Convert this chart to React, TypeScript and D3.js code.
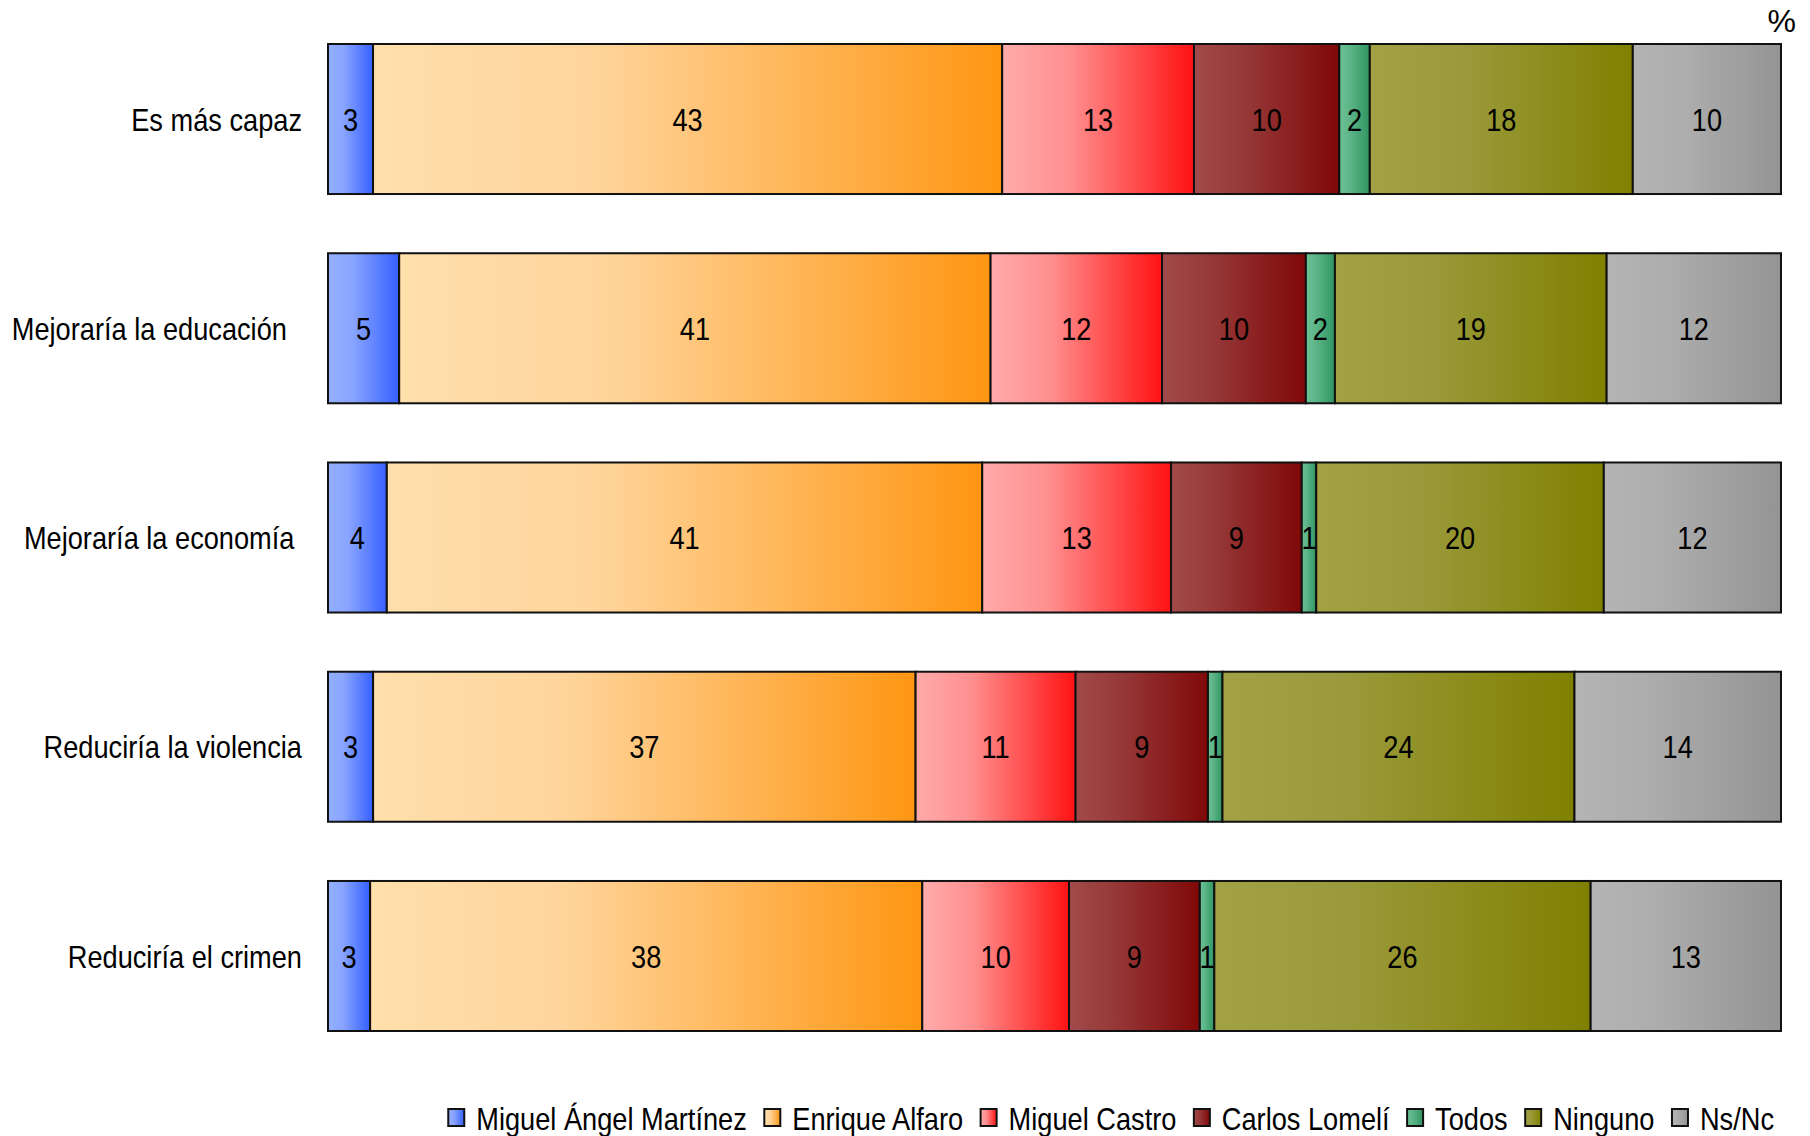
import React, { useEffect, useRef } from "react";
import * as d3 from "d3";

const categories = [
  "Es más capaz",
  "Mejoraría la educación",
  "Mejoraría la economía",
  "Reduciría la violencia",
  "Reduciría el crimen",
];
const labelTrail = ["", "\u00A0\u00A0", "\u00A0", "", ""];

const seriesNames = [
  "Miguel Ángel Martínez",
  "Enrique Alfaro",
  "Miguel Castro",
  "Carlos Lomelí",
  "Todos",
  "Ninguno",
  "Ns/Nc",
];

const miguelAngel = [3.1, 4.9, 4.05, 3.1, 2.9];
const enrique = [43.3, 40.7, 41.0, 37.3, 38.0];
const miguelCastro = [13.2, 11.8, 13.0, 11.0, 10.1];
const carlos = [10.0, 9.9, 9.0, 9.1, 9.0];
const todos = [2.1, 2.0, 1.0, 1.0, 1.0];
const ninguno = [18.1, 18.7, 19.8, 24.2, 25.9];
const nsnc = [10.2, 12.0, 12.2, 14.2, 13.1];

const seriesValues = [miguelAngel, enrique, miguelCastro, carlos, todos, ninguno, nsnc];

const gradients = [
  ["#94b0ff", "#88a4ff", "#3560ff"],
  ["#ffdfab", "#ffd59c", "#ff9612"],
  ["#ffabab", "#ff8f8f", "#ff1212"],
  ["#a24a4a", "#963838", "#800808"],
  ["#6cc095", "#5db588", "#2f9461"],
  ["#a2a244", "#9a9a3c", "#808000"],
  ["#b4b4b4", "#adadad", "#949494"],
];

const FONT = "'Liberation Sans', Arial, sans-serif";
const FS = 32;
const SX = 0.85;

export default function App() {
  const ref = useRef<SVGSVGElement | null>(null);

  useEffect(() => {
    const svg = d3.select(ref.current);
    svg.selectAll("*").remove();

    const addText = (
      parent: d3.Selection<any, unknown, null, undefined>,
      x: number,
      y: number,
      txt: string,
      anchor: string,
      sx: number = SX
    ) => {
      const gg = parent.append("g").attr("transform", `translate(${x},${y}) scale(${sx},1)`);
      const t = gg
        .append("text")
        .attr("dy", "0.36em")
        .attr("text-anchor", anchor)
        .attr("font-family", FONT)
        .attr("font-size", FS)
        .attr("fill", "#000")
        .text(txt);
      return t;
    };

    const defs = svg.append("defs");
    gradients.forEach((g, i) => {
      const lg = defs
        .append("linearGradient")
        .attr("id", `grad${i}`)
        .attr("x1", "0%")
        .attr("x2", "100%")
        .attr("y1", "0%")
        .attr("y2", "0%");
      lg.append("stop").attr("offset", "0%").attr("stop-color", g[0]);
      lg.append("stop").attr("offset", "35%").attr("stop-color", g[1]);
      lg.append("stop").attr("offset", "100%").attr("stop-color", g[2]);
    });

    const x = d3.scaleLinear().domain([0, 1]).range([328, 1781]);
    const y = d3
      .scaleBand<string>()
      .domain(categories)
      .range([44, 1031])
      .paddingInner(0.283)
      .paddingOuter(0);

    const rows = categories.map((c, ci) => {
      const vals = seriesValues.map((s) => s[ci]);
      const total = d3.sum(vals);
      let acc = 0;
      return vals.map((v, si) => {
        const start = acc / total;
        acc += v;
        return { c, ci, si, v, x0: start, x1: acc / total };
      });
    });

    const g = svg.append("g");
    rows.forEach((row) => {
      row.forEach((d) => {
        g.append("rect")
          .attr("x", x(d.x0))
          .attr("y", y(d.c)!)
          .attr("width", x(d.x1) - x(d.x0))
          .attr("height", y.bandwidth())
          .attr("fill", `url(#grad${d.si})`)
          .attr("stroke", "#111")
          .attr("stroke-width", 2);
      });
      row.forEach((d) => {
        addText(
          g,
          (x(d.x0) + x(d.x1)) / 2,
          y(d.c)! + y.bandwidth() / 2,
          String(Math.round(d.v)),
          "middle"
        );
      });
    });

    categories.forEach((c, i) => {
      addText(svg, 302, y(c)! + y.bandwidth() / 2, c + labelTrail[i], "end");
    });

    addText(svg, 1796, 20, "%", "end", 1);

    // Legend, right aligned
    const leg = svg.append("g");
    const sw = 16;
    const gapAfterSw = 12;
    const gapItem = 17.5;
    const items = seriesNames.map((n, i) => {
      const gi = leg.append("g");
      gi.append("rect")
        .attr("width", sw)
        .attr("height", 17)
        .attr("y", -9)
        .attr("fill", `url(#grad${i})`)
        .attr("stroke", "#111")
        .attr("stroke-width", 2);
      const t = addText(gi, sw + gapAfterSw, 0, n, "start");
      const w = (t.node() as SVGTextElement).getComputedTextLength() * SX;
      return { gi, w: sw + gapAfterSw + w };
    });
    const totalW = d3.sum(items, (d) => d.w) + gapItem * (items.length - 1);
    let cx = 1774 - totalW;
    items.forEach((it) => {
      it.gi.attr("transform", `translate(${cx},1118)`);
      cx += it.w + gapItem;
    });
  }, []);

  return (
    <svg
      ref={ref}
      width={1810}
      height={1136}
      style={{ position: "absolute", left: 0, top: 0, display: "block", background: "#fff" }}
    />
  );
}
